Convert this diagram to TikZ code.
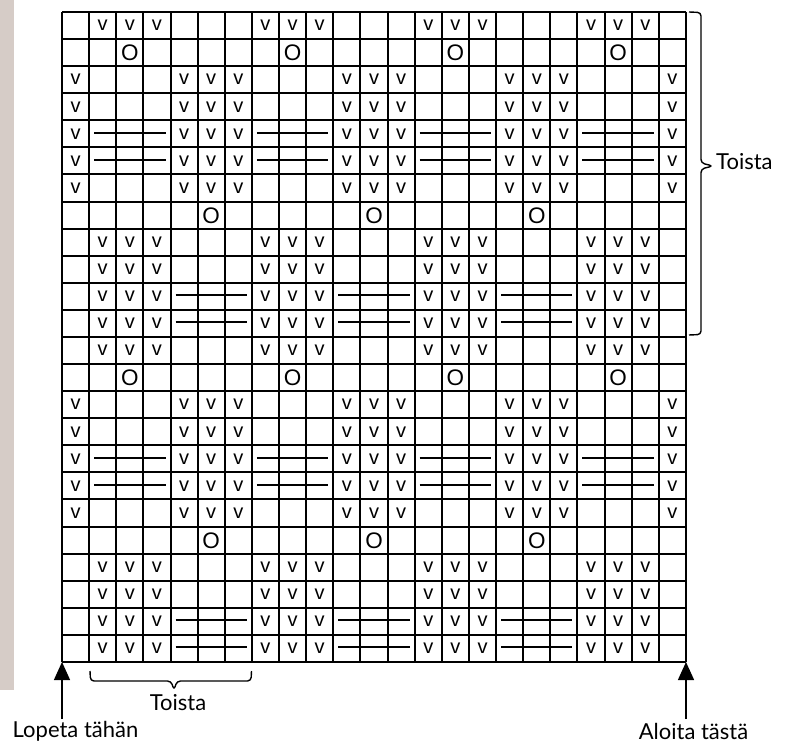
\documentclass[tikz,border=0pt]{standalone}
\usepackage{fontspec}
\setmainfont{Lato}
\newfontfamily\symfont{Liberation Sans}
\usetikzlibrary{arrows.meta}
\definecolor{stripcol}{RGB}{214,204,199}
\tikzset{
  gridline/.style={line width=2pt},
  vsym/.style={font=\symfont\fontsize{20}{20}\selectfont, inner sep=0pt},
  osym/.style={font=\symfont\fontsize{22.5}{22.5}\selectfont, inner sep=0pt},
  barline/.style={line width=2pt},
  bracestyle/.style={line width=1.4pt, rounded corners=3.5pt, line join=round},
  startarrow/.style={line width=1.4pt, -{Triangle[width=16pt,length=18pt]}},
  lbl/.style={font=\fontsize{22}{22}\selectfont, inner sep=0pt}
}
\newcommand{\cw}{27.13}
\newcommand{\rh}{27.083}
\begin{document}
\begin{tikzpicture}[x=1pt,y=-1pt]
\useasboundingbox (0,0) rectangle (792,743);
\fill[white] (0,0) rectangle (792,743);
\fill[stripcol] (0,0) rectangle (14,690);

% grid corners
\coordinate (TL) at (62,12);
\coordinate (BL) at (62,662);
\coordinate (BR) at (686,662);

% grid
\foreach \i in {0,...,23} \draw[gridline] ({62+\cw*\i},12) -- ({62+\cw*\i},662);
\foreach \j in {0,...,24} \draw[gridline] (62,{12+\rh*\j}) -- (686,{12+\rh*\j});

% v symbols, type A rows
\foreach \r in {1,9,10,11,12,13,21,22,23,24}
  \foreach \c in {2,3,4,8,9,10,14,15,16,20,21,22}
    \node[vsym] (vA-\r-\c) at ({62+\cw*(\c-0.5)},{12+\rh*(\r-0.5)}) {v};
% v symbols, type D rows
\foreach \r in {3,4,5,6,7,15,16,17,18,19}
  \foreach \c in {1,5,6,7,11,12,13,17,18,19,23}
    \node[vsym] (vD-\r-\c) at ({62+\cw*(\c-0.5)},{12+\rh*(\r-0.5)}) {v};
% O symbols
\foreach \r in {2,14}
  \foreach \c in {3,9,15,21}
    \node[osym] (oA-\r-\c) at ({62+\cw*(\c-0.5)},{12+\rh*(\r-0.5)+0.5}) {O};
\foreach \r in {8,20}
  \foreach \c in {6,12,18}
    \node[osym] (oB-\r-\c) at ({62+\cw*(\c-0.5)},{12+\rh*(\r-0.5)+0.5}) {O};
% bars
\foreach \r in {11,12,23,24}
  \foreach \c in {5,11,17}
    \draw[barline] ({62+\cw*(\c-1)+5},{12+\rh*(\r-0.5)-1}) -- ({62+\cw*(\c+2)-5},{12+\rh*(\r-0.5)-1});
\foreach \r in {5,6,17,18}
  \foreach \c in {2,8,14,20}
    \draw[barline] ({62+\cw*(\c-1)+5},{12+\rh*(\r-0.5)-1}) -- ({62+\cw*(\c+2)-5},{12+\rh*(\r-0.5)-1});

% right brace
\coordinate (rbT) at (689,12);
\coordinate (rbB) at (689,335);
\coordinate (rbTip) at (713,166);
\draw[bracestyle] (rbT) -- (701,12.5) -- (701,163) -- (rbTip) -- (701,169) -- (701,334.5) -- (rbB);
\node[lbl, anchor=west] (toistaR) at (716,162) {Toista};

% bottom brace
\coordinate (bbR) at (251.5,671);
\coordinate (bbL) at (90,671);
\coordinate (bbTip) at (174,690);
\draw[bracestyle] (bbL) -- (90.5,681) -- (171,681) -- (bbTip) -- (177,681) -- (251,681) -- (bbR);
\node[lbl] (toistaB) at (178,703) {Toista};

% arrows
\coordinate (aL) at (62,719);
\coordinate (aR) at (686,719);
\draw[startarrow] (aL) -- (BL);
\draw[startarrow] (aR) -- (BR);
\node[lbl] (lopeta) at (75.5,731) {Lopeta tähän};
\node[lbl] (aloita) at (693.5,731) {Aloita tästä};
\end{tikzpicture}
\end{document}
